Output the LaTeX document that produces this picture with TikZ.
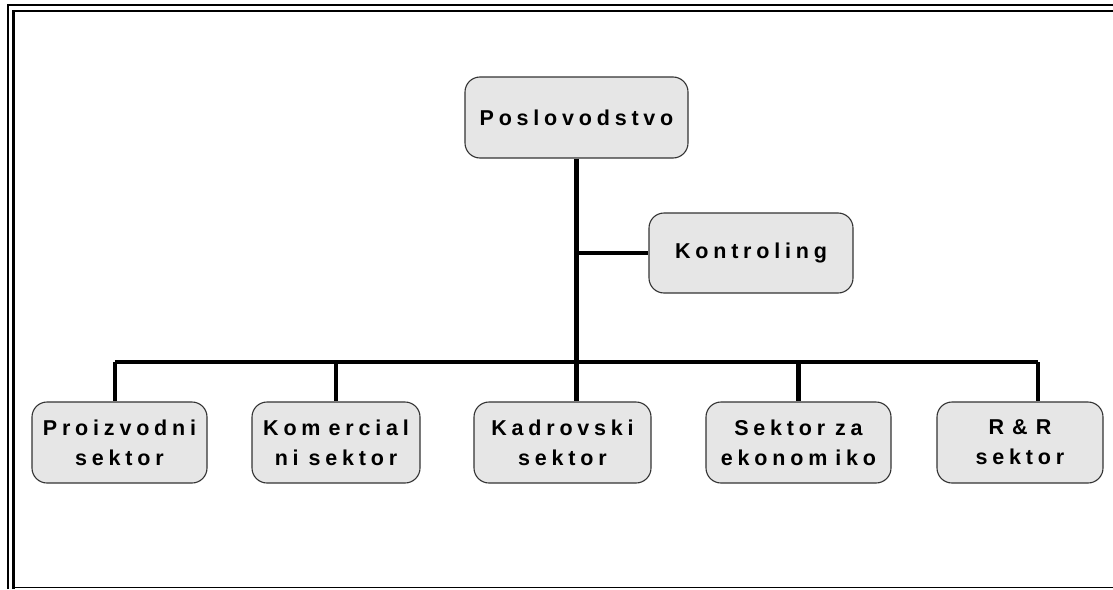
\documentclass[tikz,border=0pt]{standalone}
\usepackage{fontspec}
\setmainfont{Liberation Sans}
\newfontfamily\boxfont{Liberation Sans Bold}
\definecolor{boxfill}{HTML}{E6E6E6}
\definecolor{boxline}{HTML}{333333}
% tracked lettering: a fixed gap after every letter of a word
\newlength\letgap
\setlength\letgap{4.8pt}
\ExplSyntaxOn
\NewDocumentCommand\tracked{m}{\tl_map_inline:nn {#1} {##1\kern\letgap}\unkern}
\ExplSyntaxOff
\newcommand\wsp{\kern10pt}
\tikzset{
  unit/.style={draw=boxline, line width=1.1pt, fill=boxfill, rounded corners=15pt,
    minimum height=81pt, inner sep=0pt, align=center,
    font={\boxfont\fontsize{21.5}{30}\selectfont}},
  link/.style={line width=4.6pt, draw=black},
  frameline/.style={draw=black}
}
\begin{document}
\begin{tikzpicture}[x=1pt,y=-1pt]
  \useasboundingbox (0,0) rectangle (1113,589);
  % page frame: double rule on top and left, single rule at the bottom
  \draw[frameline, line width=2.3pt] (7.9,589) -- (7.9,5) -- (1113,5);
  \draw[frameline, line width=2.3pt] (13.6,589) -- (13.6,11) -- (1113,11);
  \draw[frameline, line width=1.5pt] (13.6,587.6) -- (1113,587.6);

  % units
  \node[unit, minimum width=223pt] (posl) at (576.5,117.5) {\tracked{Poslovodstvo}};
  \node[unit, minimum width=204pt, minimum height=80pt] (kon) at (751,253) {\tracked{Kontroling}};
  \node[unit, minimum width=175pt] (proi) at (119.5,442.5) {\tracked{Proizvodni}\\\tracked{sektor}};
  \node[unit, minimum width=168pt] (kom) at (336,442.5) {\tracked{Kom}\kern8pt\tracked{ercial}\\\tracked{ni}\wsp\tracked{sektor}};
  \node[unit, minimum width=177pt] (kad) at (562.5,442.5) {\tracked{Kadrovski}\\\tracked{sektor}};
  \node[unit, minimum width=185pt] (sek) at (798.5,442.5) {\tracked{Sektor}\wsp\tracked{za}\\\tracked{ekonom}\kern8pt\tracked{iko}};
  \node[unit, minimum width=166pt] (rr) at (1020,442.5) {R\kern8pt\&\kern8pt R\\\tracked{sektor}};

  % connectors
  \coordinate (busL) at ([xshift=-4.5pt]proi.north |- 0,362);
  \coordinate (busR) at ([xshift=18pt]rr.north |- 0,362);
  \draw[link] (busL) -- (busR);
  \draw[link] (posl.south) -- (posl.south |- kad.north);
  \draw[link] (posl.south |- kon.west) -- (kon.west);
  \draw[link] (busL) -- (busL |- proi.north);
  \draw[link] (kom.north |- busL) -- (kom.north);
  \draw[link] (sek.north |- busL) -- (sek.north);
  \draw[link] (busR) -- (busR |- rr.north);
\end{tikzpicture}
\end{document}
